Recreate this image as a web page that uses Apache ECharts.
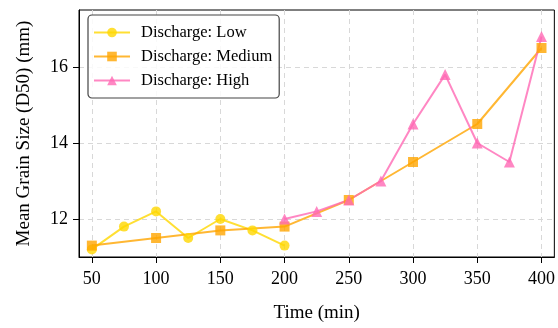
<!DOCTYPE html>
<html><head><meta charset="utf-8">
<script src="https://cdn.jsdelivr.net/npm/echarts@6/dist/echarts.min.js"></script>
<style>html,body{margin:0;padding:0;background:#fff}#c{width:558px;height:328px}</style>
</head><body><div id="c"></div>
<script>
const lowTime = [50, 75, 100, 125, 150, 175, 200];
const lowD50 = [11.2, 11.8, 12.2, 11.5, 12.0, 11.7, 11.3];
const medTime = [50, 100, 150, 200, 250, 300, 350, 400];
const medD50 = [11.3, 11.5, 11.7, 11.8, 12.5, 13.5, 14.5, 16.5];
const highTime = [200, 225, 250, 275, 300, 325, 350, 375, 400];
const highD50 = [12.0, 12.2, 12.5, 13.0, 14.5, 15.8, 14.0, 13.5, 16.8];
const xTicks = [50, 100, 150, 200, 250, 300, 350, 400];
const yTicks = [12, 14, 16];
const seriesNames = ['Discharge: Low', 'Discharge: Medium', 'Discharge: High'];

const FONT = 'Liberation Serif';
const zip = (xs, ys) => xs.map((x, i) => [x, ys[i]]);

function mkSeries(name, data, color, symbol, size) {
  return {
    name, type: 'line', data,
    symbol, symbolSize: size,
    lineStyle: { color, width: 2, opacity: 0.8 },
    itemStyle: { color, opacity: 0.8 },
    emphasis: { disabled: true },
    animation: false
  };
}

const chart = echarts.init(document.getElementById('c'), null, { renderer: 'canvas' });
chart.setOption({
  backgroundColor: '#fff',
  textStyle: { fontFamily: FONT },
  grid: { left: 79, right: 3, top: 10, bottom: 68, show: true, borderColor: '#000', borderWidth: 1 },
  legend: {
    orient: 'vertical', left: 88, top: 15,
    data: seriesNames,
    itemWidth: 36, itemHeight: 12, itemGap: 7,
    padding: [9, 7, 9, 5],
    backgroundColor: 'rgba(255,255,255,0.85)',
    borderColor: '#444', borderWidth: 1.2, borderRadius: 4,
    textStyle: { fontFamily: FONT, fontSize: 16.5, color: '#000', lineHeight: 16, padding: [0, 0, 0, 6] }
  },
  xAxis: {
    type: 'value', min: 40, max: 410,
    name: 'Time (min)', nameLocation: 'middle', nameGap: 47,
    nameTextStyle: { fontFamily: FONT, fontSize: 19, color: '#000' },
    axisLine: { show: true, lineStyle: { color: '#000', width: 1 } },
    axisTick: { show: true, customValues: xTicks, length: 6, lineStyle: { color: '#000' } },
    axisLabel: { customValues: xTicks, fontFamily: FONT, fontSize: 18, color: '#000', margin: 13 },
    splitLine: { show: true, lineStyle: { color: '#d8d8d8', type: [5, 4], width: 1 } }
  },
  yAxis: {
    type: 'value', min: 11.0, max: 17.5,
    name: 'Mean Grain Size (D50) (mm)', nameLocation: 'middle', nameGap: 45,
    nameTextStyle: { fontFamily: FONT, fontSize: 19, color: '#000' },
    axisLine: { show: true, lineStyle: { color: '#000', width: 1 } },
    axisTick: { show: true, customValues: yTicks, length: 6, lineStyle: { color: '#000' } },
    axisLabel: { customValues: yTicks, fontFamily: FONT, fontSize: 18, color: '#000', margin: 11 },
    splitLine: { show: true, lineStyle: { color: '#d8d8d8', type: [5, 4], width: 1 } }
  },
  series: [
    mkSeries(seriesNames[0], zip(lowTime, lowD50), '#FFD700', 'circle', 10),
    mkSeries(seriesNames[1], zip(medTime, medD50), '#FFA500', 'rect', 10),
    mkSeries(seriesNames[2], zip(highTime, highD50), '#FF69B4', 'triangle', 11)
  ]
});
</script></body></html>
